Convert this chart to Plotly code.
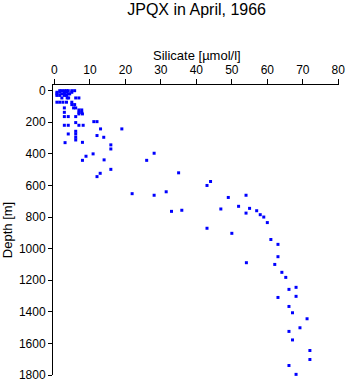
import plotly.graph_objects as go

title_text = "JPQX in April, 1966"
x_label = "Silicate [µmol/l]"
y_label = "Depth [m]"
x_ticks = [0, 10, 20, 30, 40, 50, 60, 70, 80]
y_ticks = [0, 200, 400, 600, 800, 1000, 1200, 1400, 1600, 1800]

silicate = [
    1.5, 2.1, 2.8, 3.4, 3.9, 4.9, 5.7,
    0.7, 1.5, 2.8, 3.4, 4.9,
    0.7, 2.1, 2.8, 3.9, 4.3,
    0.7, 1.5, 2.8, 3.4,
    2.1, 3.6, 4.0, 6.0, 6.9,
    0.7, 1.5, 2.4, 3.4, 4.9,
    4.9, 5.7,
    2.8, 5.4, 6.0,
    6.9, 7.7,
    2.8, 6.9, 7.7,
    6.9, 7.9,
    2.8, 3.9, 6.0,
    11.1, 12.0,
    6.0,
    2.8, 3.9, 6.9, 8.1,
    13.0, 19.0,
    6.0,
    3.9, 6.0,
    12.0,
    6.0, 13.9,
    6.0,
    3.0, 7.9,
    15.9, 15.9,
    10.9, 28.1,
    8.9,
    7.9, 14.0, 26.0,
    15.9, 12.9, 12.0,
    21.9, 28.1,
    35.0, 44.0, 43.0, 31.5, 54.0, 49.0,
    33.0, 35.9, 46.9, 51.9, 43.0, 50.0,
    55.0, 57.0, 54.0, 58.0, 59.0, 60.0, 61.0,
    63.0, 63.0, 54.1, 62.1, 64.1, 65.2, 68.1, 66.1, 68.1, 63.0,
    66.1, 67.1, 71.2, 69.2, 66.1, 67.1,
    72.0, 72.0, 66.1, 68.1,
]

depth = [
    0, 0, 0, 0, 0, 0, 0,
    10, 10, 10, 10, 10,
    20, 20, 20, 20, 20,
    30, 30, 30, 30,
    46, 46, 46, 46, 46,
    73, 73, 73, 73, 73,
    88, 88,
    109, 109, 109,
    122, 122,
    137, 137, 137,
    147, 147,
    164, 164, 164,
    196, 196,
    202,
    219, 219, 219, 219,
    242, 242,
    257,
    274, 274,
    284,
    295, 295,
    312,
    329, 327,
    343, 369,
    400, 396,
    415,
    441, 438, 441,
    498, 523, 544,
    652, 662,
    520, 575, 600, 640, 662, 676,
    764, 757, 749, 732, 871, 903,
    745, 760, 775, 785, 800, 835, 942,
    973, 1051, 1089, 1100, 1150, 1182, 1245, 1258, 1302, 1309,
    1366, 1406, 1444, 1501, 1524, 1578,
    1645, 1702, 1740, 1796,
]

fig = go.Figure()
fig.add_trace(go.Scatter(
    x=silicate, y=depth, mode="markers",
    marker=dict(symbol="square", size=3, color="#0000FF", line=dict(width=0)),
    showlegend=False, cliponaxis=False,
))

font_family = "Liberation Sans, Arial, sans-serif"

fig.update_layout(
    width=348, height=384,
    margin=dict(l=53, r=9, t=85, b=9, pad=0),
    paper_bgcolor="white", plot_bgcolor="white",
    font=dict(family=font_family, size=12, color="black"),
    title=dict(text=title_text, x=0.565, xanchor="center", y=0.975, yanchor="middle",
               font=dict(size=16, family=font_family, color="black")),
    xaxis=dict(
        side="top", range=[-0.4, 80.2], tickvals=x_ticks,
        ticks="outside", ticklen=5, tickwidth=1, tickcolor="black",
        showline=True, linecolor="black", linewidth=1,
        showgrid=False, zeroline=False, automargin=False,
        tickfont=dict(size=12),
    ),
    yaxis=dict(
        range=[1800, -36], tickvals=y_ticks,
        ticks="outside", ticklen=4, tickwidth=1, tickcolor="black",
        showline=True, linecolor="black", linewidth=1,
        showgrid=False, zeroline=False, automargin=False,
        tickfont=dict(size=12),
        title=dict(text=y_label, font=dict(size=13), standoff=4),
    ),
    annotations=[dict(
        text=x_label, xref="paper", yref="paper", x=0.505, y=1.103,
        xanchor="center", yanchor="middle", showarrow=False,
        font=dict(size=13, family=font_family, color="black"),
    )],
)

fig.write_html("out.html")
